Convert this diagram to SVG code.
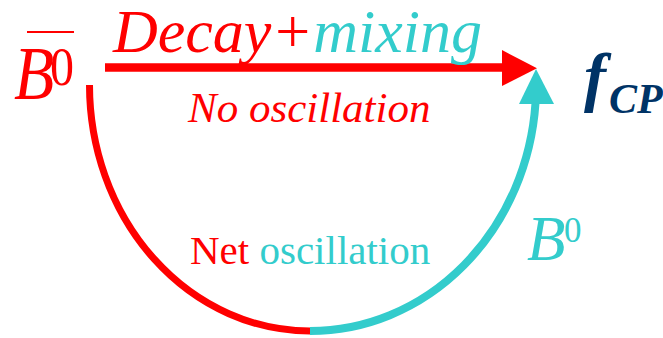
<svg xmlns="http://www.w3.org/2000/svg" width="663" height="338" viewBox="0 0 663 338">
<style>
.serif{font-family:"Liberation Serif","Times New Roman",serif}
.it{font-style:italic}
.red{fill:#FF0000}
.cyan{fill:#33CCCC}
.navy{fill:#003366}
</style>
<rect width="663" height="338" fill="#FFFFFF"/>
<g id="connectors">
  <g id="direct-arrow">
    <line x1="105" y1="67.5" x2="503" y2="67.5" stroke="#FF0000" stroke-width="8.4"/>
    <polygon points="502,50 537,68.3 502,86" fill="#FF0000"/>
  </g>
  <g id="oscillation-arc">
    <path d="M89.5 85 A220.5 246 0 0 0 310 331" fill="none" stroke="#FF0000" stroke-width="7"/>
    <path d="M310 331 A226 246 0 0 0 535.5 103" fill="none" stroke="#33CCCC" stroke-width="8"/>
    <polygon points="519,104 536,69 554,104" fill="#33CCCC"/>
  </g>
</g>
<g id="node-B0bar">
  <line x1="27" y1="32" x2="74" y2="32" stroke="#FF0000" stroke-width="2.2"/>
  <text class="serif it red" font-size="64" transform="translate(14,99) scale(1.03,1.2)">B</text>
  <text class="serif red" font-size="48" transform="translate(50,85) scale(1,1.15)">0</text>
</g>
<g id="node-fCP">
  <text class="serif it navy" x="584" y="99" font-size="66" font-weight="bold">f</text>
  <text class="serif it navy" x="609" y="113" font-size="42" font-weight="bold">CP</text>
</g>
<g id="node-B0">
  <text class="serif it cyan" x="527" y="260" font-size="63">B</text>
  <text class="serif cyan" x="564" y="242" font-size="35">0</text>
</g>
<g id="labels">
  <text class="serif it" x="113" y="52" font-size="62"><tspan class="red">Decay+</tspan><tspan class="cyan">mixing</tspan></text>
  <text class="serif it red" x="188" y="122" font-size="43">No oscillation</text>
  <text class="serif" x="190" y="264" font-size="41"><tspan class="red">Net</tspan><tspan class="cyan"> oscillation</tspan></text>
</g>
</svg>
